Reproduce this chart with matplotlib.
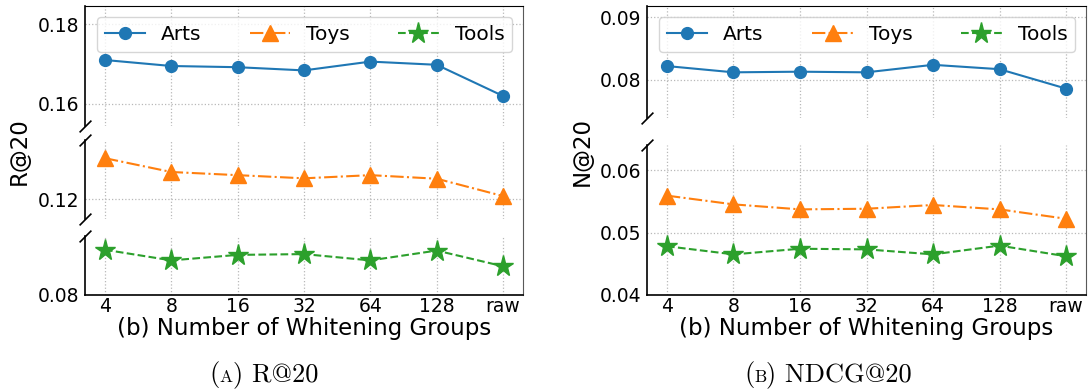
import matplotlib
matplotlib.use('Agg')
import matplotlib.pyplot as plt
from matplotlib.offsetbox import TextArea, HPacker, AnchoredOffsetbox

groups = ['4', '8', '16', '32', '64', '128', 'raw']
datasets = ['Arts', 'Toys', 'Tools']

recall_arts = [0.1710, 0.1695, 0.1692, 0.1684, 0.1706, 0.1698, 0.1620]
recall_toys = [0.1304, 0.1269, 0.1261, 0.1253, 0.1261, 0.1252, 0.1208]
recall_tools = [0.0915, 0.0888, 0.0902, 0.0904, 0.0888, 0.0913, 0.0873]

ndcg_arts = [0.0822, 0.0812, 0.0813, 0.0812, 0.0824, 0.0817, 0.0786]
ndcg_toys = [0.0559, 0.0545, 0.0537, 0.0538, 0.0544, 0.0537, 0.0522]
ndcg_tools = [0.0478, 0.0465, 0.0474, 0.0473, 0.0465, 0.0479, 0.0462]

styles = [
    dict(color='tab:blue', linestyle='-', marker='o', markersize=8.5),
    dict(color='tab:orange', linestyle='-.', marker='^', markersize=12),
    dict(color='tab:green', linestyle='--', marker='*', markersize=15.5),
]

W, H = 1090, 392
fig = plt.figure(figsize=(W / 100, H / 100), dpi=100)


def box(x0, x1, y0, y1):
    # pixel rectangle (top-left origin) -> figure fraction
    return [x0 / W, 1 - y1 / H, (x1 - x0) / W, (y1 - y0) / H]


def draw_panel(xr, segs, values, ylabel, ylabel_x):
    x = list(range(len(groups)))
    axs = []
    for i, ((y0, y1), lim, ticks) in enumerate(segs):
        ax = fig.add_axes(box(xr[0], xr[1], y0, y1))
        for vals, name, st in zip(values, datasets, styles):
            ax.plot(x, vals, label=name, linewidth=1.5, **st)
        ax.set_xlim(-0.3, 6.3)
        ax.set_ylim(lim)
        ax.set_yticks(ticks)
        ax.set_yticklabels(['%.2f' % t for t in ticks])
        ax.set_xticks(x)
        ax.grid(True, linestyle=':', color='#b8b8b8', linewidth=0.9)
        ax.tick_params(axis='y', length=0, pad=4, labelsize=13.5)
        ax.tick_params(axis='x', length=0, pad=1.5, labelsize=13.5)
        ax.spines['right'].set_visible(False)
        ax.spines['left'].set_linewidth(1.2)
        if i > 0:
            ax.spines['top'].set_visible(False)
        if i < len(segs) - 1:
            ax.spines['bottom'].set_visible(False)
            ax.tick_params(labelbottom=False)
        else:
            ax.set_xticklabels(groups)
            ax.spines['bottom'].set_linewidth(1.2)
        ax.patch.set_alpha(0)
        axs.append(ax)

    # break marks on the left spine
    kw = dict(marker=[(-1, -1), (1, 1)], markersize=8.5, linestyle='none',
              color='k', mec='k', mew=1.2, clip_on=False)
    for upper, lower in zip(axs[:-1], axs[1:]):
        upper.plot([0], [0], transform=upper.transAxes, **kw)
        lower.plot([0], [1], transform=lower.transAxes, **kw)

    # outer frame carrying the unbroken right edge
    frame = fig.add_axes(box(xr[0], xr[1], segs[0][0][0], segs[-1][0][1]), zorder=-1)
    frame.patch.set_visible(False)
    frame.set_xticks([])
    frame.set_yticks([])
    for side in ['left', 'bottom', 'top']:
        frame.spines[side].set_visible(False)
    frame.spines['right'].set_color('0.35')

    top = axs[0]
    y0, y1 = segs[0][0]
    h = y1 - y0
    top.legend(ncol=3, loc='upper left', mode='expand', borderaxespad=0,
               bbox_to_anchor=(0.027, 0, 0.949, 1 - 10.5 / h),
               fontsize=14.5, handlelength=2.0)

    fig.text(ylabel_x / W, 1 - 151 / H, ylabel, rotation=90,
             ha='center', va='center', fontsize=16.5)
    fig.text((xr[0] + xr[1]) / 2 / W, 1 - 335 / H,
             '(b) Number of Whitening Groups',
             ha='center', va='baseline', fontsize=16.5)


def caption(cx, letter, rest):
    big = dict(family=['cmr10', 'DejaVu Serif'], size=19)
    small = dict(family=['cmr10', 'DejaVu Serif'], size=12.5)
    pack = HPacker(children=[TextArea('(', textprops=big),
                             TextArea(letter, textprops=small),
                             TextArea(') ' + rest, textprops=big)],
                   align='baseline', pad=0, sep=0)
    ab = AnchoredOffsetbox(loc='center', child=pack, frameon=False, pad=0,
                           borderpad=0, bbox_to_anchor=(cx / W, 1 - 375 / H),
                           bbox_transform=fig.transFigure)
    fig.add_artist(ab)


draw_panel((85, 523),
           [((6, 126), (0.1545, 0.1845), [0.16, 0.18]),
            ((140, 219), (0.115, 0.135), [0.12]),
            ((236, 295), (0.08, 0.095), [0.08])],
           [recall_arts, recall_toys, recall_tools], 'R@20', 19)

draw_panel((647, 1086),
           [((6, 118), (0.0739, 0.0918), [0.08, 0.09]),
            ((145, 295), (0.04, 0.064), [0.04, 0.05, 0.06])],
           [ndcg_arts, ndcg_toys, ndcg_tools], 'N@20', 582)

caption(264, 'A', 'R@20')
caption(828, 'B', 'NDCG@20')

plt.savefig('out.png', dpi=100)
